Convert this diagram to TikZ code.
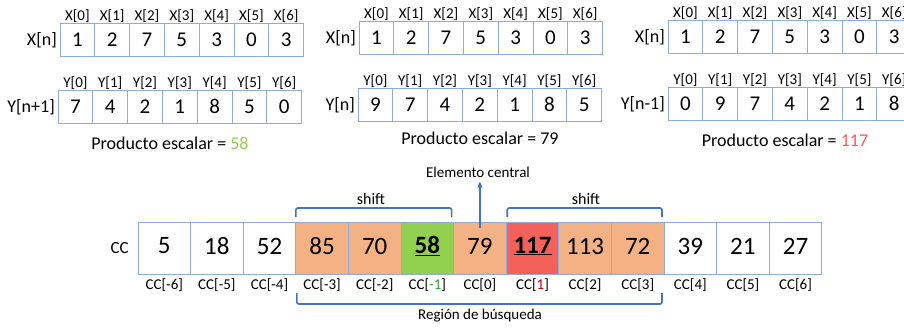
\documentclass[tikz,border=0pt]{standalone}
\usepackage{fontspec}
\setmainfont{Carlito}
\usetikzlibrary{arrows.meta}

\definecolor{cellborder}{HTML}{8FAADC}
\definecolor{bracketblue}{HTML}{4472C4}
\definecolor{hlorange}{HTML}{F4B183}
\definecolor{hlgreen}{HTML}{92D050}
\definecolor{hlred}{HTML}{F4605A}
\definecolor{txtgreen}{HTML}{2EA83A}
\definecolor{txtred}{HTML}{C00000}

\newcommand{\fs}[1]{\fontsize{#1}{#1}\selectfont}

\tikzset{
  vcell/.style={draw=cellborder, line width=0.8pt, inner sep=0pt, outer sep=0pt,
    anchor=north west, minimum width=34.8pt, minimum height=33.5pt, font=\fs{21}},
  idx/.style={font=\fs{15}, inner sep=0pt},
  rowlab/.style={font=\fs{18}, anchor=east, inner sep=0pt},
  prod/.style={font=\fs{18}, inner sep=0pt},
  cccell/.style={draw=cellborder, line width=0.8pt, inner sep=0pt, outer sep=0pt,
    anchor=north west, minimum width=52.6pt, minimum height=52pt, font=\fs{25}},
  ccidx/.style={font=\fs{15}, inner sep=0pt},
  brace/.style={draw=bracketblue, line width=1.6pt, rounded corners=2pt},
  note/.style={font=\fs{15}, inner sep=0pt},
}

% one row of a vector: #1 name prefix, #2 left x, #3 top y, #4 letter, #5 row label, #6 values
\newcommand{\vecrow}[6]{%
  \foreach \v [count=\i from 0] in {#6} {
    \node[vcell] (#1\i) at (#2+34.8*\i,#3) {\v};
    \node[idx] (#1l\i) at ([yshift=7pt]#1\i.north) {#4[\i]};
  }
  \node[rowlab] (#1lab) at ([xshift=-3pt]#10.west) {#5};
}

\begin{document}
\begin{tikzpicture}[x=1pt,y=-1pt]
\useasboundingbox[fill=white] (0,0) rectangle (904,330);

% --- three shifted products ---
\vecrow{ax}{60}{23}{X}{X[n]}{1,2,7,5,3,0,3}
\vecrow{ay}{58}{90}{Y}{Y[n+1]}{7,4,2,1,8,5,0}
\node[prod] (aprod) at (170,143) {Producto escalar = \textcolor{hlgreen}{58}};

\vecrow{bx}{359}{21}{X}{X[n]}{1,2,7,5,3,0,3}
\vecrow{by}{358}{88}{Y}{Y[n]}{9,7,4,2,1,8,5}
\node[prod] (bprod) at (480,138) {Producto escalar = 79};

\vecrow{cx}{668}{20}{X}{X[n]}{1,2,7,5,3,0,3}
\vecrow{cy}{668}{87}{Y}{Y[n-1]}{0,9,7,4,2,1,8}
\node[prod] (cprod) at (785,140) {Producto escalar = \textcolor{hlred}{117}};

% --- cross-correlation vector ---
\foreach \v/\f/\l [count=\i from 0] in {
    5/white/{CC[-6]}, 18/white/{CC[-5]}, 52/white/{CC[-4]},
    85/hlorange/{CC[-3]}, 70/hlorange/{CC[-2]},
    {\textbf{\underline{58}}}/hlgreen/{CC[\textcolor{txtgreen}{-1}]},
    79/hlorange/{CC[0]},
    {\textbf{\underline{117}}}/hlred/{CC[\textcolor{txtred}{1}]},
    113/hlorange/{CC[2]}, 72/hlorange/{CC[3]},
    39/white/{CC[4]}, 21/white/{CC[5]}, 27/white/{CC[6]}} {
  \node[cccell, fill=\f] (cc\i) at (138+52.6*\i,222) {\raisebox{2pt}[\height][\depth]{\v}};
  \node[ccidx] (ccl\i) at ([yshift=-11pt]cc\i.south) {\l};
}
\node[font=\fs{17}, inner sep=0pt, anchor=east] (cclab) at ([xshift=-9pt]cc0.west) {CC};

% shift brackets
\draw[brace] ([yshift=5pt]cc3.north west) -- ++(0pt,9pt) -| ([xshift=-2pt,yshift=5pt]cc6.north west);
\node[font=\fs{16}, inner sep=0pt] (shiftL) at (371,199) {shift};
\draw[brace] ([xshift=1pt,yshift=5pt]cc7.north west) -- ++(0pt,9pt) -| ([xshift=-2pt,yshift=5pt]cc9.north east);
\node[font=\fs{16}, inner sep=0pt] (shiftR) at (586,199) {shift};

% search region
\draw[brace] ([xshift=1pt,yshift=-19pt]cc3.south west) -- ++(0pt,-11pt) -| ([xshift=-2pt,yshift=-19pt]cc9.south east);
\node[note] (region) at (480,316) {Región de búsqueda};

% central element
\node[note] (central) at (478,172) {Elemento central};
\draw[draw=bracketblue, line width=1.2pt, -{Triangle[length=6pt,width=5pt]}, shorten >=4pt]
  ([yshift=-6pt]cc6.north) -- (central.south -| cc6.north);
\end{tikzpicture}
\end{document}
